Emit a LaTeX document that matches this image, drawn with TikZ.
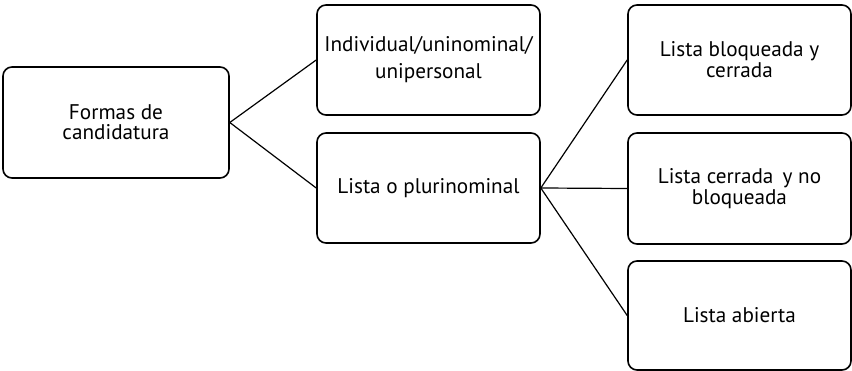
\documentclass[tikz,border=0pt]{standalone}
\usepackage{fontspec}
\setmainfont{PT Sans}
\usetikzlibrary{positioning}

\begin{document}
\begin{tikzpicture}[x=1pt, y=-1pt,
  box/.style={draw, rectangle, rounded corners=9pt, line width=1.6pt,
    minimum width=223pt, minimum height=110pt, inner sep=0pt,
    align=center, fill=white, font=\fontsize{21.2}{21}\selectfont},
  lnk/.style={line width=1.2pt},
]
\useasboundingbox (0,0) rectangle (852,371);
% root
\node[box, minimum width=226pt, minimum height=111pt,
  font=\fontsize{21.2}{20}\selectfont] (formas) at (116,122.5)
  {Formas de\\candidatura};
% second level
\node[box, font=\fontsize{21.2}{27}\selectfont] (indiv) at (428.5,60)
  {Individual/uninominal/\\unipersonal};
\node[box] (lista) at (428.5,188) {Lista o plurinominal};
% third level
\node[box] (bloq) at (739.5,60) {Lista bloqueada y\\cerrada};
\node[box, minimum height=111pt] (cerr) at (739.5,188.5)
  {Lista cerrada\, y no\\bloqueada};
\node[box, minimum height=109pt] (abie) at (739.5,315.5) {Lista abierta};
\draw[lnk] (formas.east) -- (indiv.west);
\draw[lnk] (formas.east) -- (lista.west);
\draw[lnk] (lista.east) -- (bloq.west);
\draw[lnk] (lista.east) -- (cerr.west);
\draw[lnk] (lista.east) -- (abie.west);
\end{tikzpicture}
\end{document}
